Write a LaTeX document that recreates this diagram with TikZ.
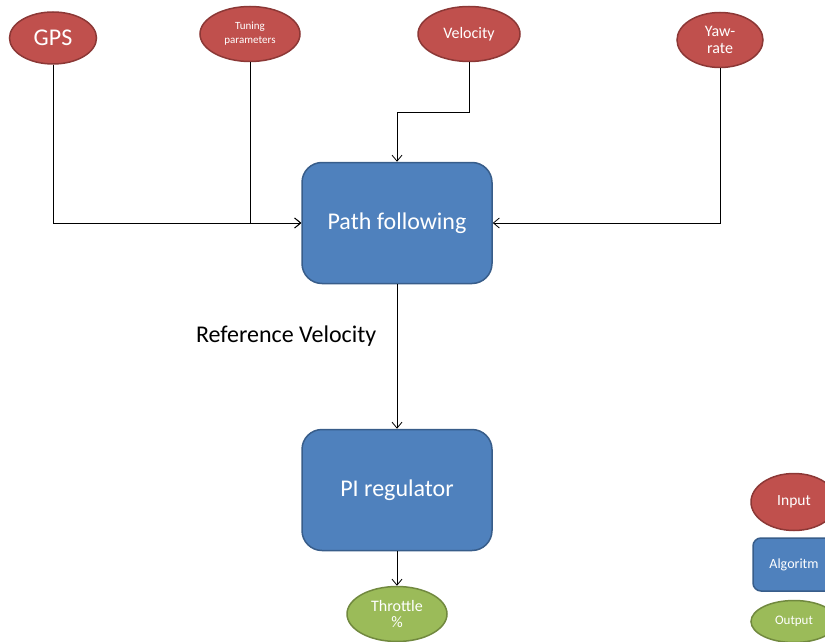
\documentclass[tikz,border=0pt]{standalone}
\usepackage{fontspec}
\setmainfont{Carlito}
\usetikzlibrary{arrows.meta,positioning,calc,shapes.geometric}
\definecolor{inred}{RGB}{192,80,77}
\definecolor{inredline}{RGB}{140,56,54}
\definecolor{algblue}{RGB}{79,129,189}
\definecolor{algblueline}{RGB}{56,93,138}
\definecolor{outgreen}{RGB}{155,187,89}
\definecolor{outgreenline}{RGB}{113,137,63}

\begin{document}
\begin{tikzpicture}[
      x=1pt, y=-1pt,
      >={Straight Barb[length=6pt,width=10pt]},
      inp/.style={ellipse, draw=inredline, fill=inred, line width=1.5pt,
                  text=white, align=center, inner sep=0pt},
      alg/.style={draw=algblueline, fill=algblue, line width=1.5pt, rounded corners=20pt,
                  text=white, align=center, minimum width=190pt, minimum height=121pt,
                  font=\fontsize{24}{28}\selectfont},
      outp/.style={ellipse, draw=outgreenline, fill=outgreen, line width=1.5pt,
                   text=white, align=center, inner sep=0pt},
      conn/.style={->, line width=0.8pt},
      lbl/.style={font=\fontsize{24}{28}\selectfont, text=black}
    ]
    \useasboundingbox (0,0) rectangle (825,642);
    \clip (0,0) rectangle (825,642);

    % inputs
    \node[inp, minimum width=87pt, minimum height=52pt, font=\fontsize{24}{28}\selectfont]
      (gps) at (53,38) {GPS};
    \node[inp, minimum width=100pt, minimum height=55pt, font=\fontsize{11}{14}\selectfont]
      (tuning) at (250,34) {Tuning\\parameters};
    \node[inp, minimum width=102pt, minimum height=55pt, font=\fontsize{16}{19}\selectfont]
      (vel) at (469,34) {Velocity};
    \node[inp, minimum width=86pt, minimum height=55pt, font=\fontsize{16}{16.5}\selectfont]
      (yaw) at (720,40) {Yaw-\\rate};

    % algorithms
    \node[alg] (path) at (397,223) {Path following};
    \node[alg] (pireg) at (397,490) {PI regulator};

    % output
    \node[outp, minimum width=100pt, minimum height=55pt, font=\fontsize{16}{16.5}\selectfont]
      (throttle) at (397,614) {Throttle\\\%};

    % connectors
    \draw[conn] (gps.south) |- (path.west);
    \draw[conn] (tuning.south) |- (path.west);
    \draw[conn] (vel.south) |- ($(vel.south)!0.5!(vel.south |- path.north)$) -| (path.north);
    \draw[conn] (yaw.south) |- (path.east);
    \draw[conn] (path.south) -- (pireg.north)
      node[lbl, pos=0.36, left=17pt] {Reference Velocity};
    \draw[conn] (pireg.south) -- (throttle.north);

    % legend
    \node[inp, minimum width=86pt, minimum height=57pt, font=\fontsize{15.5}{18}\selectfont]
      (leginp) at (794,502) {Input};
    \node[alg, minimum width=82pt, minimum height=53pt, rounded corners=8pt,
          font=\fontsize{14}{17}\selectfont, below=6pt of leginp] (legalg) {Algoritm};
    \node[outp, minimum width=86pt, minimum height=42pt, font=\fontsize{13}{15}\selectfont,
          below=8pt of legalg] (legout) {Output};
\end{tikzpicture}
\end{document}
